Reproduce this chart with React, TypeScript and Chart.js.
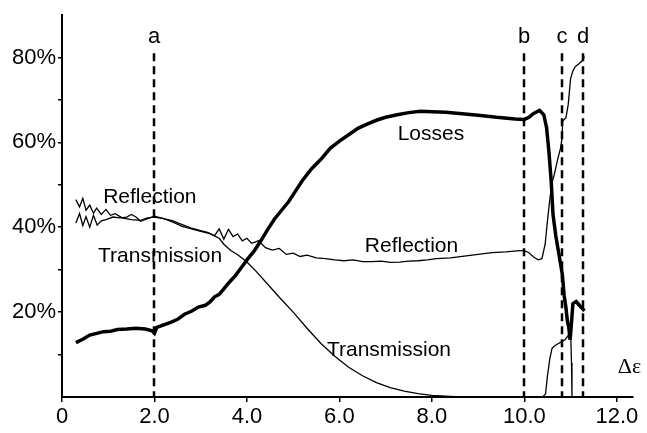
import React, { useEffect, useRef } from "react";
import { Chart, registerables } from "chart.js";

Chart.register(...registerables);

// ---- Data ----
const lossesX = [0.3, 0.45, 0.6, 0.75, 0.9, 1.05, 1.2, 1.4, 1.6, 1.8, 1.95, 2.0, 2.05, 2.2, 2.35, 2.5, 2.65, 2.8, 2.95, 3.1, 3.2, 3.3, 3.4, 3.5, 3.6, 3.75, 3.9, 4.0, 4.15, 4.3, 4.45, 4.6, 4.75, 4.9, 5.05, 5.2, 5.4, 5.6, 5.8, 6.0, 6.2, 6.4, 6.6, 6.8, 7.0, 7.25, 7.5, 7.75, 8.0, 8.3, 8.6, 9.0, 9.4, 9.8, 10.0, 10.1, 10.2, 10.33, 10.42, 10.48, 10.53, 10.58, 10.62, 10.68, 10.75, 10.82, 10.86, 10.9, 10.93, 10.96, 10.99, 11.02, 11.05, 11.12, 11.2, 11.3];
const lossesY = [12.8, 13.6, 14.6, 15.0, 15.4, 15.5, 15.9, 16.0, 16.2, 16.0, 15.6, 15.0, 16.4, 17.0, 17.6, 18.3, 19.5, 20.2, 21.2, 21.6, 22.4, 23.6, 24.2, 25.5, 26.8, 28.6, 30.8, 32.3, 34.3, 36.8, 39.5, 42.0, 44.0, 46.0, 48.5, 51.0, 53.8, 56.0, 58.6, 60.3, 61.8, 63.3, 64.3, 65.2, 65.9, 66.5, 67.0, 67.3, 67.2, 67.1, 66.8, 66.4, 65.9, 65.5, 65.4, 65.9, 66.8, 67.5, 66.5, 63.5, 58.0, 51.0, 43.0, 38.0, 33.5, 29.0, 24.0, 21.0, 18.0, 16.5, 13.5, 17.5, 22.0, 22.5, 21.5, 20.3];

const reflectionX = [0.3, 0.38, 0.45, 0.52, 0.6, 0.68, 0.75, 0.85, 0.95, 1.05, 1.15, 1.3, 1.5, 1.7, 1.85, 2.0, 2.2, 2.4, 2.6, 2.8, 3.0, 3.15, 3.3, 3.4, 3.5, 3.6, 3.7, 3.8, 3.9, 4.0, 4.1, 4.25, 4.4, 4.55, 4.7, 4.85, 5.0, 5.15, 5.3, 5.5, 5.7, 5.9, 6.1, 6.3, 6.5, 6.7, 6.9, 7.1, 7.3, 7.5, 7.7, 7.9, 8.1, 8.4, 8.7, 9.0, 9.3, 9.6, 9.9, 10.0, 10.1, 10.2, 10.3, 10.38, 10.45, 10.5, 10.55, 10.6, 10.65, 10.72, 10.78, 10.81, 10.83, 10.9, 10.95, 11.0, 11.05, 11.1, 11.18, 11.25, 11.3];
const reflectionY = [46.5, 44.8, 46.8, 44.0, 45.2, 43.3, 44.5, 43.0, 44.2, 42.8, 43.2, 42.2, 41.8, 41.6, 42.2, 42.4, 42.0, 41.5, 40.6, 39.8, 39.2, 38.8, 38.0, 39.6, 37.2, 39.5, 37.8, 38.4, 36.8, 37.4, 36.2, 36.8, 35.2, 34.6, 35.0, 33.6, 33.9, 33.1, 33.4, 32.8, 32.6, 32.3, 32.1, 32.3, 31.9, 31.9, 32.0, 31.7, 31.8, 32.0, 32.1, 32.3, 32.6, 32.8, 33.2, 33.6, 34.0, 34.2, 34.5, 34.5, 34.0, 33.0, 32.3, 32.6, 36.0, 41.5, 46.5, 50.5, 52.5, 56.0, 58.5, 60.5, 65.0, 65.8, 69.0, 75.0, 76.8, 77.8, 78.5, 79.2, 80.2];

const transmissionX = [0.3, 0.38, 0.45, 0.52, 0.6, 0.68, 0.76, 0.85, 0.95, 1.1, 1.25, 1.4, 1.5, 1.6, 1.7, 1.85, 2.0, 2.2, 2.4, 2.6, 2.8, 3.0, 3.2, 3.4, 3.5, 3.65, 3.8, 4.0, 4.2, 4.43, 4.7, 5.0, 5.3, 5.6, 5.9, 6.2, 6.5, 6.8, 7.1, 7.4, 7.7, 8.0, 8.3, 8.6, 9.0, 9.5, 10.0, 10.4, 10.46, 10.5, 10.55, 10.6, 10.65, 10.72, 10.8, 10.88, 10.95, 11.0, 11.02, 11.03];
const transmissionY = [41.0, 43.2, 40.4, 42.5, 40.0, 42.8, 40.5, 41.5, 41.8, 42.4, 42.2, 42.4, 43.0, 42.4, 41.4, 42.0, 42.6, 42.0, 41.2, 40.2, 39.6, 39.0, 38.5, 37.4, 36.0, 34.5, 33.5, 31.8, 29.6, 26.8, 23.5, 20.0, 16.2, 12.6, 9.6, 7.0, 5.0, 3.4, 2.2, 1.4, 0.8, 0.4, 0.2, 0.0, 0.0, 0.0, 0.0, 0.0, 0.8, 5.0, 9.0, 11.5, 12.0, 12.5, 13.0, 13.5, 14.5, 16.0, 8.0, 0.0];

const xTickValues = [0, 2, 4, 6, 8, 10, 12];
const xTickLabels = ["0", "2.0", "4.0", "6.0", "8.0", "10.0", "12.0"];
const yTickValues = [10, 20, 30, 40, 50, 60, 70, 80];
const yTickLabels = ["", "20%", "", "40%", "", "60%", "", "80%"];

const markerXs = [2.0, 10.0, 10.81, 11.27];
const markerNames = ["a", "b", "c", "d"];
const markerTop = 81;
const markerLabelY = 84.8;

const curveLabels = ["Reflection", "Transmission", "Losses", "Reflection", "Transmission"];
const curveLabelXs = [0.89, 0.78, 7.26, 6.55, 5.73];
const curveLabelYs = [47, 33.1, 61.9, 35.5, 11.1];
const axisName = "Δε";
const axisNameX = 12.02;
const axisNameY = 6.9;

const toPoints = (xs: number[], ys: number[]) => xs.map((x, i) => ({ x, y: ys[i] }));

const annotationPlugin = {
  id: "annotations",
  afterDatasetsDraw(chart: any) {
    const { ctx, scales } = chart;
    const xs = scales.x;
    const ys = scales.y;
    ctx.save();
    ctx.strokeStyle = "#000";
    ctx.fillStyle = "#000";
    ctx.lineWidth = 2.5;
    ctx.setLineDash([8, 5]);
    ctx.font = "22px 'Liberation Sans', Arial, sans-serif";
    ctx.textAlign = "center";
    ctx.textBaseline = "middle";
    markerXs.forEach((v, i) => {
      const px = Math.round(xs.getPixelForValue(v));
      ctx.beginPath();
      ctx.moveTo(px, ys.getPixelForValue(markerTop));
      ctx.lineTo(px, ys.getPixelForValue(0));
      ctx.stroke();
      ctx.fillText(markerNames[i], px, ys.getPixelForValue(markerLabelY));
    });
    ctx.setLineDash([]);
    ctx.textAlign = "left";
    ctx.font = "21px 'Liberation Sans', Arial, sans-serif";
    curveLabels.forEach((t, i) => {
      ctx.fillText(t, xs.getPixelForValue(curveLabelXs[i]), ys.getPixelForValue(curveLabelYs[i]));
    });
    ctx.font = "22px 'Liberation Serif', 'Times New Roman', serif";
    ctx.fillText(axisName, xs.getPixelForValue(axisNameX), ys.getPixelForValue(axisNameY));
    ctx.restore();
  },
};

export default function App() {
  const canvasRef = useRef<HTMLCanvasElement | null>(null);

  useEffect(() => {
    document.body.style.margin = "0";
    document.body.style.background = "#fff";
    const canvas = canvasRef.current;
    if (!canvas) return;
    const lineBase = { pointRadius: 0, borderColor: "#000", tension: 0, fill: false };
    const chart = new Chart(canvas, {
      type: "line",
      data: {
        datasets: [
          { ...lineBase, label: "Losses", data: toPoints(lossesX, lossesY), borderWidth: 3.5 },
          { ...lineBase, label: "Reflection", data: toPoints(reflectionX, reflectionY), borderWidth: 1.3 },
          { ...lineBase, label: "Transmission", data: toPoints(transmissionX, transmissionY), borderWidth: 1.3 },
        ],
      },
      options: {
        animation: false,
        responsive: false,
        devicePixelRatio: 1,
        layout: { padding: { left: 0, top: 15, right: 14, bottom: 0 } },
        plugins: { legend: { display: false }, tooltip: { enabled: false } },
        scales: {
          x: {
            type: "linear",
            min: 0,
            max: 12.35,
            afterBuildTicks: (s: any) => {
              s.ticks = xTickValues.map((v) => ({ value: v }));
            },
            afterFit: (s: any) => {
              s.height = 36;
              s.paddingLeft = 0;
              s.paddingRight = 0;
            },
            ticks: {
              callback: (v: any) => xTickLabels[xTickValues.indexOf(Number(v))] ?? "",
              color: "#000",
              font: { family: "'Liberation Sans', Arial, sans-serif", size: 22 },
              padding: 2,
              maxRotation: 0,
              autoSkip: false,
            },
            grid: { drawOnChartArea: false, drawTicks: true, tickLength: 5, color: "#000", lineWidth: 1.5 },
            border: { display: true, color: "#000", width: 2 },
          },
          y: {
            min: 0,
            max: 90,
            afterBuildTicks: (s: any) => {
              s.ticks = yTickValues.map((v) => ({ value: v }));
            },
            afterFit: (s: any) => {
              s.width = 62;
              s.paddingTop = 0;
              s.paddingBottom = 0;
            },
            ticks: {
              callback: (v: any) => yTickLabels[yTickValues.indexOf(Number(v))] ?? "",
              color: "#000",
              font: { family: "'Liberation Sans', Arial, sans-serif", size: 22 },
              padding: 2,
              autoSkip: false,
            },
            grid: { drawOnChartArea: false, drawTicks: true, tickLength: 4, color: "#000", lineWidth: 1.5 },
            border: { display: true, color: "#000", width: 2 },
          },
        },
      },
      plugins: [annotationPlugin],
    } as any);
    return () => chart.destroy();
  }, []);

  return (
    <div style={{ width: 647, height: 433, background: "#fff" }}>
      <canvas ref={canvasRef} width={647} height={433} style={{ display: "block" }} />
    </div>
  );
}
